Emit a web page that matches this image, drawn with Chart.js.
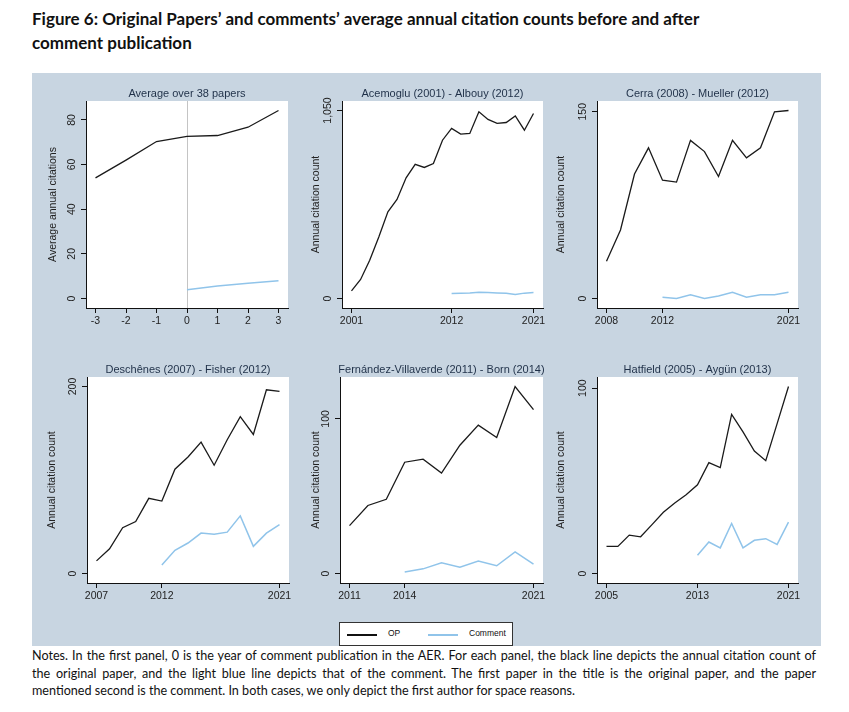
<!DOCTYPE html>
<html>
<head>
<meta charset="utf-8">
<script src="https://cdn.jsdelivr.net/npm/chart.js@4.4.1/dist/chart.umd.min.js"></script>
<style>
  body { margin: 0; background: #fff; }
  #page { position: relative; width: 849px; height: 712px; overflow: hidden; }
  #title { position: absolute; left: 32px; top: 7px; font: bold 17px Lato, "Open Sans", sans-serif; line-height: 24px; color: #111; }
  #bg { position: absolute; left: 32px; top: 73px; width: 789px; height: 573px; background: #c8d5e1; }
  .cell { position: absolute; }
  #legend { position: absolute; left: 339px; top: 622px; width: 172px; height: 22px; background: #fff; border: 1px solid #333;
            font: 8.5px "Liberation Sans", Arial, sans-serif; color: #111; }
  #legend .ln { position: absolute; top: 11px; height: 0; }
  #legend .tx { position: absolute; top: 5px; }
  #notes { position: absolute; left: 32px; top: 647px; width: 784px; font: 12.6px Lato, "Open Sans", sans-serif; line-height: 17.6px; color: #111; }
  #notes div.j { text-align: justify; text-align-last: justify; white-space: nowrap; }
</style>
</head>
<body>
<div id="page">
  <div id="title">Figure 6: Original Papers’ and comments’ average annual citation counts before and after<br>comment publication</div>
  <div id="bg"></div>
  <div id="cells"></div>
  <div id="legend">
    <div class="ln" style="left:7px;width:30px;border-top:2px solid #111;"></div>
    <div class="tx" style="left:48px;">OP</div>
    <div class="ln" style="left:88px;width:30px;border-top:2px solid #90c4ea;"></div>
    <div class="tx" style="left:129px;">Comment</div>
  </div>
  <div id="notes">
    <div class="j">Notes. In the first panel, 0 is the year of comment publication in the AER. For each panel, the black line depicts the annual citation count of</div>
    <div class="j">the original paper, and the light blue line depicts that of the comment. The first paper in the title is the original paper, and the paper</div>
    <div>mentioned second is the comment. In both cases, we only depict the first author for space reasons.</div>
  </div>
</div>
<script>
// ---- data ----
const avgTime = [-3, -2, -1, 0, 1, 2, 3];
const avgOP = [54, 62, 70.3, 72.6, 73, 76.7, 84.2];
const avgCommentTime = [0, 1, 2, 3];
const avgComment = [3.9, 5.6, 6.8, 8];

const acemogluYears = [2001, 2002, 2003, 2004, 2005, 2006, 2007, 2008, 2009, 2010, 2011, 2012, 2013, 2014, 2015, 2016, 2017, 2018, 2019, 2020, 2021];
const acemogluOP = [43, 106, 214, 344, 484, 553, 674, 749, 732, 754, 884, 950, 918, 922, 1043, 1000, 978, 983, 1020, 940, 1033];
const albouyYears = [2012, 2013, 2014, 2015, 2016, 2017, 2018, 2019, 2020, 2021];
const albouyComment = [28, 29, 31, 35, 33, 31, 29, 22, 30, 33];

const cerraYears = [2008, 2009, 2010, 2011, 2012, 2013, 2014, 2015, 2016, 2017, 2018, 2019, 2020, 2021];
const cerraOP = [30, 55, 100, 121, 95, 93.5, 127, 118, 98, 127, 113, 121, 150, 151];
const muellerYears = [2012, 2013, 2014, 2015, 2016, 2017, 2018, 2019, 2020, 2021];
const muellerComment = [1, 0, 3, 0, 2, 5, 1, 3, 3, 5];

const deschenesYears = [2007, 2008, 2009, 2010, 2011, 2012, 2013, 2014, 2015, 2016, 2017, 2018, 2019, 2020, 2021];
const deschenesOP = [13.5, 26.5, 49, 55.6, 80.4, 77.5, 111.5, 124.6, 140.5, 115.8, 143, 167.8, 148.7, 196.5, 194.7];
const fisherYears = [2012, 2013, 2014, 2015, 2016, 2017, 2018, 2019, 2020, 2021];
const fisherComment = [9.2, 24.8, 32.6, 43.2, 42.1, 44.2, 61.6, 29, 43.2, 52.4];

const fernandezYears = [2011, 2012, 2013, 2014, 2015, 2016, 2017, 2018, 2019, 2020, 2021];
const fernandezOP = [31, 44, 48, 72, 74, 65, 83, 96, 88, 121, 106];
const bornYears = [2014, 2015, 2016, 2017, 2018, 2019, 2020, 2021];
const bornComment = [1, 3, 7, 4, 8, 5, 14, 6];

const hatfieldYears = [2005, 2006, 2007, 2008, 2009, 2010, 2011, 2012, 2013, 2014, 2015, 2016, 2017, 2018, 2019, 2020, 2021];
const hatfieldOP = [14.6, 14.6, 20.7, 19.8, 26.4, 33, 38, 42.5, 47.9, 59.8, 57.1, 85.9, 76.4, 66.1, 60.9, 80.9, 100.9];
const aygunYears = [2013, 2014, 2015, 2016, 2017, 2018, 2019, 2020, 2021];
const aygunComment = [9.8, 17, 13.8, 27, 13.8, 17.9, 18.8, 15.7, 27.7];

const panelTitles = ['Average over 38 papers', 'Acemoglu (2001) - Albouy (2012)', 'Cerra (2008) - Mueller (2012)',
                     'Deschênes (2007) - Fisher (2012)', 'Fernández-Villaverde (2011) - Born (2014)', 'Hatfield (2005) - Aygün (2013)'];
const yTitles = ['Average annual citations', 'Annual citation count', 'Annual citation count',
                 'Annual citation count', 'Annual citation count', 'Annual citation count'];
const xTicks = [[-3, -2, -1, 0, 1, 2, 3], [2001, 2012, 2021], [2008, 2012, 2021], [2007, 2012, 2021], [2011, 2014, 2021], [2005, 2013, 2021]];
const yTicks = [[0, 20, 40, 60, 80], [0, 1050], [0, 150], [0, 200], [0, 100], [0, 100]];

// ---- layout (plot area boxes in page pixels) ----
const boxes = [
  {l: 86, t: 101, w: 202, h: 207, yt: 33},
  {l: 342, t: 101, w: 201, h: 207, yt: 25.5},
  {l: 597, t: 101, w: 201, h: 207, yt: 35.5},
  {l: 87, t: 376.5, w: 202, h: 206, yt: 34.5},
  {l: 340, t: 376.5, w: 203, h: 206, yt: 23.5},
  {l: 597, t: 376.5, w: 201, h: 206, yt: 35.5}
];
const LEFT = 56, TOP = 24, RIGHT = 14, BOTTOM = 26, EDGE = 9.5;
const OP_COLOR = '#1a1a1a', COMMENT_COLOR = '#90c4ea';
const FONT = '"Liberation Sans", Arial, sans-serif';

const series = [
  [avgTime, avgOP, avgCommentTime, avgComment],
  [acemogluYears, acemogluOP, albouyYears, albouyComment],
  [cerraYears, cerraOP, muellerYears, muellerComment],
  [deschenesYears, deschenesOP, fisherYears, fisherComment],
  [fernandezYears, fernandezOP, bornYears, bornComment],
  [hatfieldYears, hatfieldOP, aygunYears, aygunComment]
];

function pts(xs, ys) {
  return xs.map((x, i) => ({x: x, y: ys[i]}));
}

// white plot region, panel title, rotated y labels (Stata look)
const panelDecor = {
  id: 'panelDecor',
  beforeDraw(chart) {
    const a = chart.chartArea, ctx = chart.ctx;
    ctx.save();
    ctx.fillStyle = '#fff';
    ctx.fillRect(a.left, a.top, a.right - a.left, a.bottom - a.top);
    ctx.restore();
  },
  afterDraw(chart, args, opts) {
    const a = chart.chartArea, ctx = chart.ctx, y = chart.scales.y;
    ctx.save();
    ctx.textAlign = 'center';
    ctx.textBaseline = 'middle';
    ctx.font = '11px ' + FONT;
    ctx.fillStyle = '#1f3048';
    ctx.fillText(opts.title, (a.left + a.right) / 2, a.top - 7.5);
    ctx.fillStyle = '#222';
    ctx.font = '10.5px ' + FONT;
    y.ticks.forEach(t => {
      ctx.save();
      ctx.translate(a.left - 13.5, y.getPixelForValue(t.value));
      ctx.rotate(-Math.PI / 2);
      ctx.fillText(t.value.toLocaleString('en-US'), 0, 0);
      ctx.restore();
    });
    ctx.translate(a.left - opts.yTitleOffset, (a.top + a.bottom) / 2);
    ctx.rotate(-Math.PI / 2);
    ctx.fillText(opts.yTitle, 0, 0);
    ctx.restore();
  }
};

const cells = document.getElementById('cells');

series.forEach((s, i) => {
  const b = boxes[i];
  const div = document.createElement('div');
  div.className = 'cell';
  div.style.left = (b.l - LEFT) + 'px';
  div.style.top = (b.t - TOP) + 'px';
  div.style.width = (b.w + LEFT + RIGHT) + 'px';
  div.style.height = (b.h + TOP + BOTTOM) + 'px';
  const cv = document.createElement('canvas');
  div.appendChild(cv);
  cells.appendChild(div);

  const xs = s[0].concat(s[2]);
  const ys = s[1].concat(s[3]).concat(yTicks[i]);
  const xMin = Math.min(...xs), xMax = Math.max(...xs);
  const yMin = Math.min(0, ...ys), yMax = Math.max(...ys);
  const xPad = (xMax - xMin) * EDGE / (b.w - 2 * EDGE);
  const yPad = (yMax - yMin) * EDGE / (b.h - 2 * EDGE);
  const tx = xTicks[i], ty = yTicks[i];

  new Chart(cv, {
    type: 'scatter',
    data: {
      datasets: [
        {label: 'OP', data: pts(s[0], s[1]), showLine: true, pointRadius: 0, borderColor: OP_COLOR, borderWidth: 1.3, tension: 0},
        {label: 'Comment', data: pts(s[2], s[3]), showLine: true, pointRadius: 0, borderColor: COMMENT_COLOR, borderWidth: 1.5, tension: 0}
      ]
    },
    options: {
      responsive: true,
      maintainAspectRatio: false,
      animation: false,
      layout: {padding: {top: TOP, right: RIGHT, left: 0, bottom: 0}},
      plugins: {
        legend: {display: false},
        tooltip: {enabled: false},
        panelDecor: {title: panelTitles[i], yTitle: yTitles[i], yTitleOffset: b.yt}
      },
      scales: {
        x: {
          type: 'linear',
          min: xMin - xPad,
          max: xMax + xPad,
          afterBuildTicks: sc => { sc.ticks = tx.map(v => ({value: v})); },
          afterFit: sc => { sc.height = BOTTOM; sc.paddingLeft = 0; sc.paddingRight = 0; },
          border: {display: true, color: '#111', width: 1},
          grid: {
            display: true,
            drawOnChartArea: i === 0,
            color: ctx => (ctx.tick && ctx.tick.value === 0) ? '#c4c4c4' : 'rgba(0,0,0,0)',
            lineWidth: 1,
            drawTicks: true,
            tickLength: 5,
            tickColor: '#111',
            tickWidth: 1
          },
          ticks: {
            autoSkip: false,
            maxRotation: 0,
            padding: 2,
            color: '#222',
            font: {family: FONT, size: 10.5},
            callback: v => String(v)
          }
        },
        y: {
          type: 'linear',
          min: yMin - yPad,
          max: yMax + yPad,
          afterBuildTicks: sc => { sc.ticks = ty.map(v => ({value: v})); },
          afterFit: sc => { sc.width = LEFT; },
          border: {display: true, color: '#111', width: 1},
          grid: {display: true, drawOnChartArea: false, drawTicks: true, tickLength: 5, tickColor: '#111', tickWidth: 1},
          ticks: {display: false}
        }
      }
    },
    plugins: [panelDecor]
  });
});
</script>
</body>
</html>
